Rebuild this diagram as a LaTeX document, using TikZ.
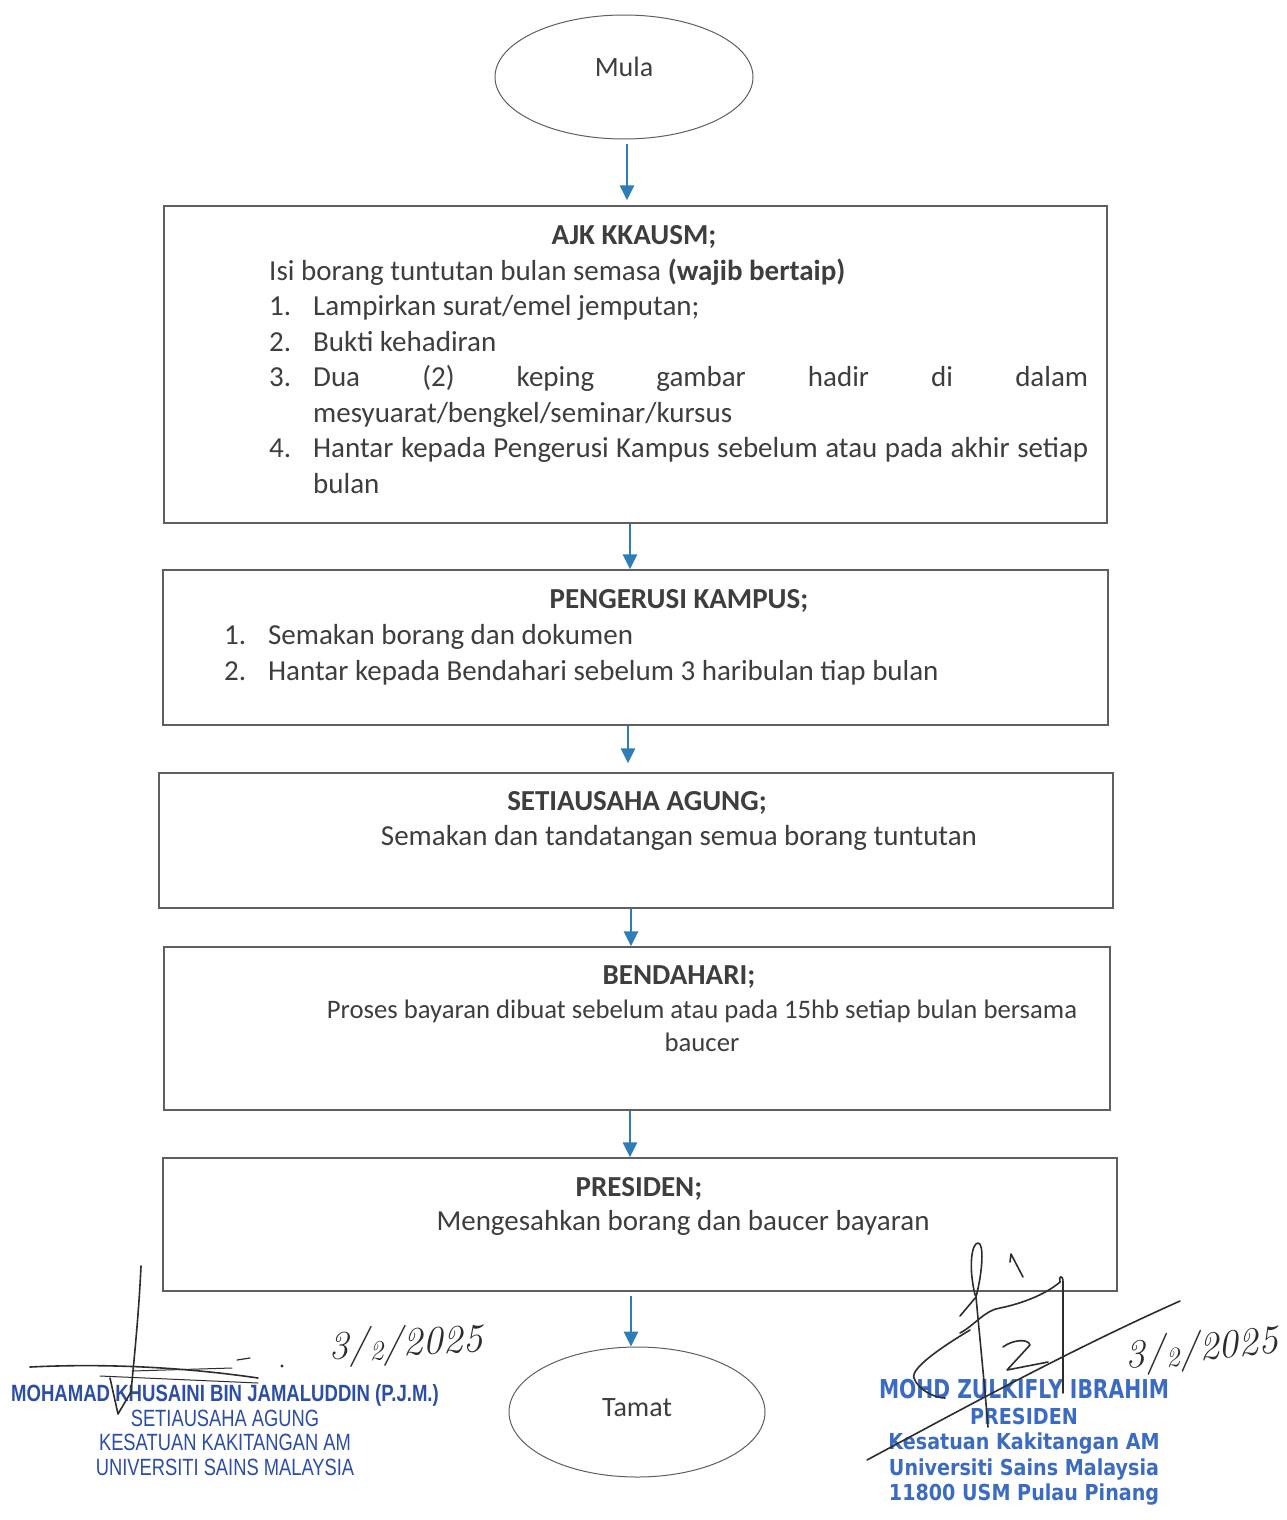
\documentclass[tikz,border=0pt]{standalone}
\usepackage{fontspec}
\setmainfont{Carlito}
\newfontfamily\stampsans{Liberation Sans}
\newfontfamily\stampdeja{DejaVu Sans}
\newfontfamily\handfont{Latin Modern Roman}
\usepackage{tikz}
\usetikzlibrary{arrows.meta,shapes.geometric}
\definecolor{inkgray}{RGB}{62,62,62}
\definecolor{framegray}{RGB}{95,95,95}
\definecolor{flowblue}{RGB}{46,125,182}
\definecolor{stampblue}{RGB}{44,78,166}
\definecolor{stamplight}{RGB}{60,108,194}
\definecolor{penink}{RGB}{45,45,45}
\hyphenpenalty=10000
\exhyphenpenalty=10000
\tikzset{%
	startstop/.style = {draw=framegray, ellipse, line width=1pt, inner sep=0pt},
	process/.style   = {draw=framegray, rectangle, line width=1.3pt, inner sep=0pt},
	termtext/.style  = {font=\fontsize{28}{34}\selectfont, text=inkgray, inner sep=0pt},
	heading/.style   = {font=\fontsize{29}{35.5}\selectfont\bfseries, text=inkgray, inner sep=0pt},
	body/.style      = {font=\fontsize{29}{35.5}\selectfont, text=inkgray, inner sep=0pt},
	arrow/.style     = {flowblue, line width=2.8pt, -{Triangle[width=14pt,length=15pt]}},
	sgstamp/.style   = {font=\stampsans\fontsize{23.5}{24.7}\selectfont, text=stampblue, align=center, inner sep=0pt},
	prstamp/.style   = {font=\stampdeja\bfseries\fontsize{22}{25.5}\selectfont, text=stamplight, align=center, inner sep=0pt},
	pen/.style       = {draw=penink, line width=1.6pt, line cap=round, line join=round},
	handdate/.style  = {font=\handfont\itshape\fontsize{40}{40}\selectfont, text=penink, inner sep=0pt},
}
% numbered line with hanging indent
\newcommand{\stepline}[2]{\par\noindent\hangindent=44pt\hangafter=1\strut\makebox[44pt][l]{#1}#2\par}

\begin{document}
\begin{tikzpicture}[x=1pt,y=-1pt]
	\fill[white] (0,0) rectangle (1286,1520);
	\useasboundingbox (0,0) rectangle (1286,1520);

	% terminals
	\node [startstop, minimum width=258pt, minimum height=124pt] (mula) at (624,77) {};
	\node [termtext, anchor=base] (mulatext) at (624,76) {Mula};
	\node [startstop, minimum width=256pt, minimum height=130pt] (tamat) at (637,1412) {};
	\node [termtext, anchor=base] (tamattext) at (637,1416) {Tamat};

	% process boxes
	\node [process, minimum width=943pt, minimum height=317pt] (box1) at (635.5,364.5) {};
	\node [process, minimum width=945pt, minimum height=155pt] (box2) at (635.5,647.5) {};
	\node [process, minimum width=954pt, minimum height=135pt] (box3) at (636,840.5) {};
	\node [process, minimum width=946pt, minimum height=163pt] (box4) at (637,1028.5) {};
	\node [process, minimum width=954pt, minimum height=133pt] (box5) at (640,1224.5) {};

	\node [heading, anchor=base] (ajkhead) at (634,244) {AJK KKAUSM;};
	\node [body, text width=819pt, align=justify, anchor=north west] (ajkbody) at (269,255) {%
		\noindent\strut Isi borang tuntutan bulan semasa \textbf{(wajib bertaip)}
		\stepline{1.}{Lampirkan surat/emel jemputan;}
		\stepline{2.}{Bukti kehadiran}
		\stepline{3.}{Dua (2) keping gambar hadir di dalam\linebreak mesyuarat/bengkel/seminar/kursus}
		\stepline{4.}{Hantar kepada Pengerusi Kampus sebelum atau pada akhir setiap\linebreak bulan}};

	\node [heading, anchor=base] (kampushead) at (679,608) {PENGERUSI KAMPUS;};
	\node [body, text width=900pt, align=flush left, anchor=north west] (kampusbody) at (224,609) {%
		\stepline{1.}{Semakan borang dan dokumen}
		\stepline{2.}{Hantar kepada Bendahari sebelum 3 haribulan tiap bulan}};

	\node [heading, anchor=base] (sualhead) at (637,810) {SETIAUSAHA AGUNG;};
	\node [body, anchor=base] (sualbody) at (679,845) {Semakan dan tandatangan semua borang tuntutan};

	\node [heading, anchor=base] (bendhead) at (679,984) {BENDAHARI;};
	\node [body, align=center, anchor=north, font=\fontsize{26.7}{33}\selectfont] (bendbody) at (702,995) {\strut Proses bayaran dibuat sebelum atau pada 15hb setiap bulan bersama\\baucer};

	\node [heading, anchor=base] (preshead) at (639,1196) {PRESIDEN;};
	\node [body, anchor=base] (presbody) at (683,1230) {Mengesahkan borang dan baucer bayaran};

	% flow
	\draw[arrow, shorten <=4pt, shorten >=5pt] ([xshift=3pt]mula.south) -- ([xshift=3pt]mula.south |- box1.north);
	\draw[arrow] ([xshift=-5.5pt]box1.south) -- ([xshift=-5.5pt]box1.south |- box2.north);
	\draw[arrow, shorten >=9pt] ([xshift=-7.5pt]box2.south) -- ([xshift=-7.5pt]box2.south |- box3.north);
	\draw[arrow] ([xshift=-5pt]box3.south) -- ([xshift=-5pt]box3.south |- box4.north);
	\draw[arrow] ([xshift=-7pt]box4.south) -- ([xshift=-7pt]box4.south |- box5.north);
	\draw[arrow, shorten <=4pt] ([xshift=-9pt]box5.south) -- ([xshift=-9pt]box5.south |- tamat.north);

	% stamps
	\node [sgstamp, anchor=north] (sgname) at (225,1384) {\strut\scalebox{.79}[1]{\bfseries MOHAMAD KHUSAINI BIN JAMALUDDIN (P.J.M.)}\\
		\scalebox{.78}[1]{SETIAUSAHA AGUNG}\\
		\scalebox{.78}[1]{KESATUAN KAKITANGAN AM}\\
		\scalebox{.78}[1]{UNIVERSITI SAINS MALAYSIA}};
	\node [prstamp, anchor=north] (prname) at (1024,1379) {\strut\scalebox{.78}[1]{\fontsize{26}{25.5}\selectfont MOHD ZULKIFLY IBRAHIM}\\
		\scalebox{.87}[1]{PRESIDEN}\\
		\scalebox{.87}[1]{Kesatuan Kakitangan AM}\\
		\scalebox{.87}[1]{Universiti Sains Malaysia}\\
		\scalebox{.87}[1]{11800 USM Pulau Pinang}};

	% signatures
	\draw[pen] (141,1266) .. controls (139,1310) and (135,1350) .. (131,1392) -- (118,1414) -- (110,1378);
	\draw[pen] (30,1367) .. controls (110,1363) and (190,1368) .. (258,1378);
	\draw[pen, line width=1pt] (100,1376) -- (258,1383);
	\draw[pen, line width=1pt] (132,1371) -- (232,1368);
	\draw[pen, line width=1.2pt] (237,1360) -- (250,1358);
	\fill[penink] (282,1366) circle (1.6pt);
	\node [handdate, rotate=3] (sgdate) at (406,1345) {3/\raisebox{-4pt}{\fontsize{28}{28}\selectfont 2}/2025};

	\draw[pen] (867,1460) .. controls (960,1410) and (1070,1350) .. (1180,1301);
	\draw[pen] (975,1295) .. controls (968,1265) and (972,1243) .. (978,1243) .. controls (984,1243) and (983,1270) .. (976,1297) .. controls (980,1340) and (985,1390) .. (988,1427);
	\draw[pen] (976,1297) -- (960,1316);
	\draw[pen] (960,1333) .. controls (975,1325) and (985,1310) .. (1000,1308) .. controls (1020,1304) and (1045,1295) .. (1060,1282);
	\draw[pen] (1060,1282) .. controls (1058,1276) and (1063,1274) .. (1063,1282) -- (1063,1393);
	\draw[pen] (970,1330) .. controls (945,1345) and (910,1368) .. (914,1378) .. controls (918,1390) and (935,1398) .. (945,1398);
	\draw[pen] (1003,1347) .. controls (1012,1340) and (1028,1338) .. (1030,1345) -- (1007,1370) -- (1048,1362);
	\draw[pen] (1010,1262) -- (1011,1254) -- (1023,1277);
	\node [handdate, rotate=6] (prdate) at (1202,1350) {3/\raisebox{-4pt}{\fontsize{28}{28}\selectfont 2}/2025};
\end{tikzpicture}
\end{document}
